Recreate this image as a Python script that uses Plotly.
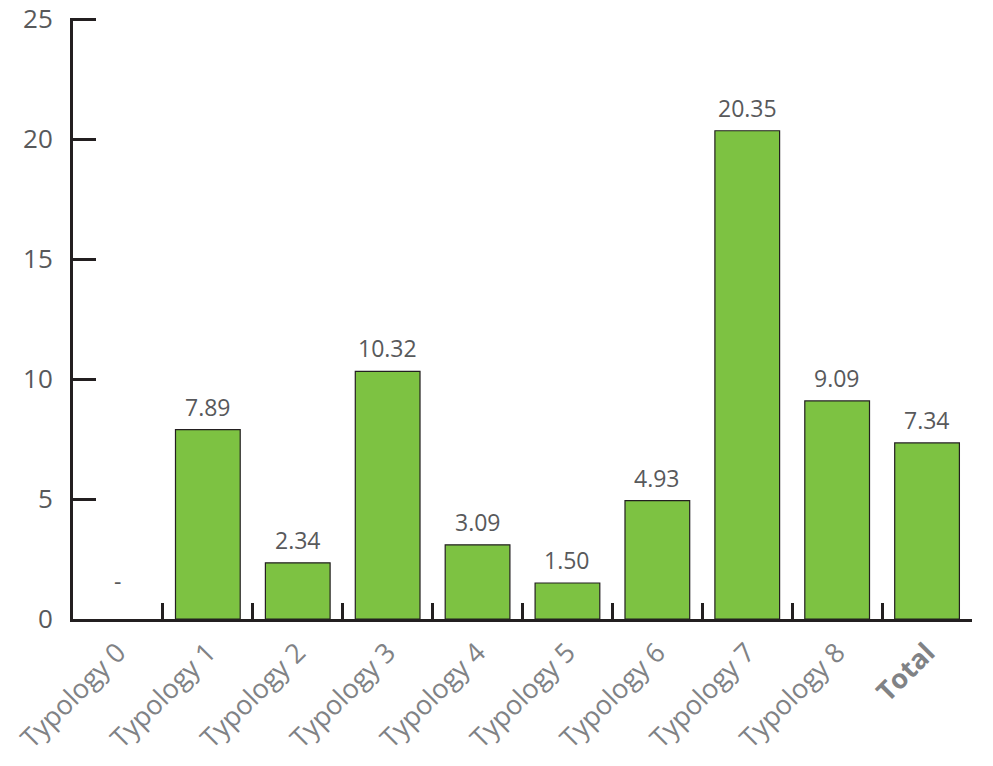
import plotly.graph_objects as go

categories = ["Typology 0", "Typology 1", "Typology 2", "Typology 3", "Typology 4",
              "Typology 5", "Typology 6", "Typology 7", "Typology 8", "Total"]
tick_labels = ["Typology 0", "Typology 1", "Typology 2", "Typology 3", "Typology 4",
               "Typology 5", "Typology 6", "Typology 7", "Typology 8", "<b>Total</b>"]
values = [0, 7.89, 2.34, 10.32, 3.09, 1.50, 4.93, 20.35, 9.09, 7.34]
value_labels = ["-", "7.89", "2.34", "10.32", "3.09", "1.50", "4.93", "20.35", "9.09", "7.34"]
y_ticks = [0, 5, 10, 15, 20, 25]

FONT = "'Open Sans', 'Noto Sans', sans-serif"
AXIS = "#231f20"

fig = go.Figure()
fig.add_trace(go.Bar(
    x=categories, y=values,
    marker=dict(color="#7dc242",
                line=dict(color="#231f20", width=[0 if v == 0 else 1.2 for v in values])),
    width=0.72,
    hoverinfo="skip",
))

for c, v, t in zip(categories, values, value_labels):
    fig.add_annotation(x=c, y=v, text=t, showarrow=False, yanchor="bottom",
                       yshift=(20 if v == 0 else 5),
                       font=dict(family=FONT, size=23, color="#58595b"))

fig.update_layout(
    width=993, height=766,
    margin=dict(l=73, r=21, t=18, b=147, autoexpand=False),
    paper_bgcolor="white", plot_bgcolor="white",
    showlegend=False,
    xaxis=dict(
        type="category", tickmode="array", tickvals=categories, ticktext=tick_labels,
        tickangle=-45, tickson="boundaries", ticks="inside", ticklen=16, tickwidth=3,
        tickcolor=AXIS, showline=True, linecolor=AXIS, linewidth=3, showgrid=False,
        tickfont=dict(family=FONT, size=27, color="#808285"),
        range=[-0.5, 9.5], zeroline=False, automargin=False, ticklabelstandoff=4,
    ),
    yaxis=dict(
        range=[0, 25.05], tickvals=y_ticks, ticks="inside", ticklen=23,
        tickwidth=3, tickcolor=AXIS, showline=True, linecolor=AXIS, linewidth=3,
        showgrid=False, zeroline=False, automargin=False, ticklabelstandoff=12,
        tickfont=dict(family=FONT, size=26, color="#58595b"),
    ),
)

fig.write_html("out.html")
